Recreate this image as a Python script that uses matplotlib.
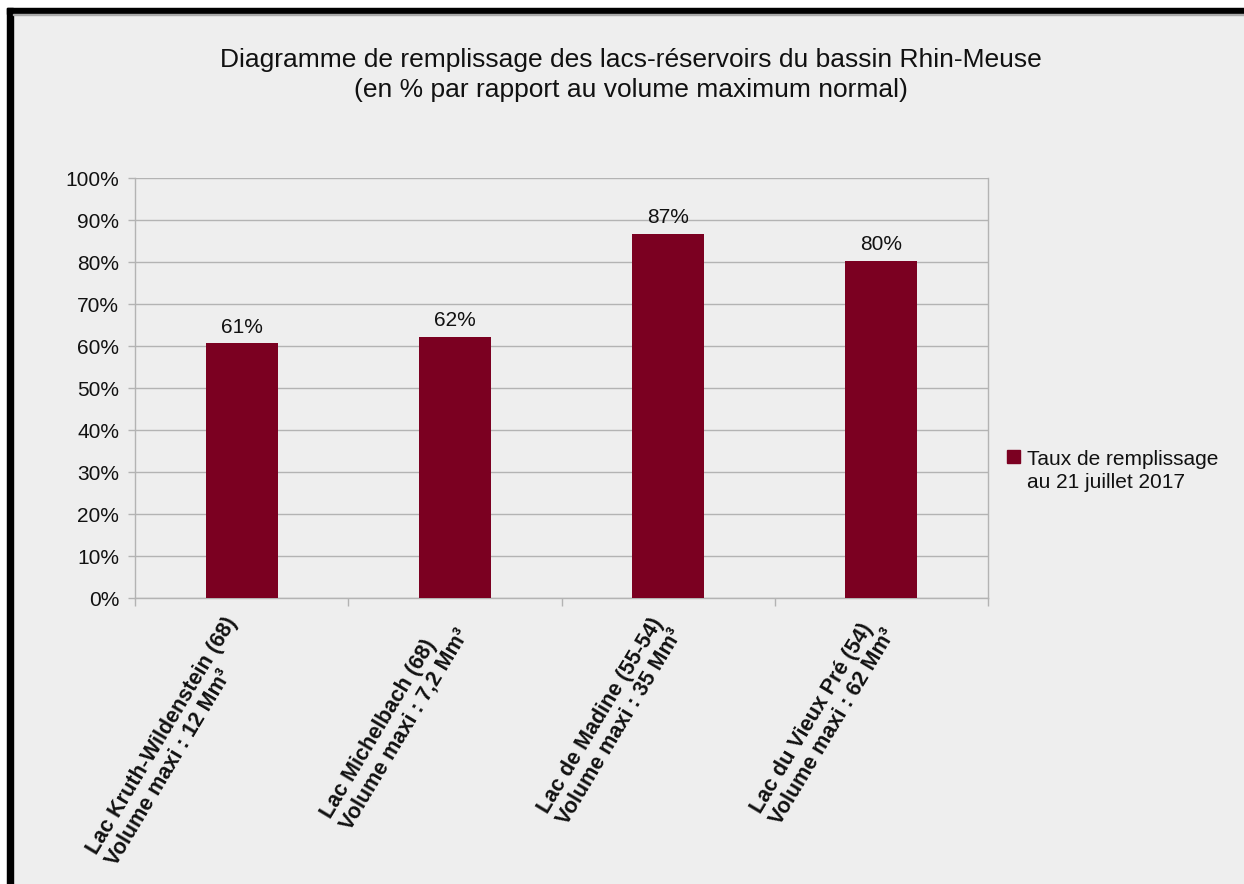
import numpy as np
import matplotlib
matplotlib.use('Agg')
import matplotlib.pyplot as plt
from matplotlib.patches import Rectangle

plt.rcParams['font.family'] = ['Liberation Sans', 'DejaVu Sans']

lacs = ['Lac Kruth-Wildenstein (68)\nVolume maxi : 12 Mm³',
        'Lac Michelbach (68)\nVolume maxi : 7,2 Mm³',
        'Lac de Madine (55-54)\nVolume maxi : 35 Mm³',
        'Lac du Vieux Pré (54)\nVolume maxi : 62 Mm³']
taux = [60.6, 62.2, 86.6, 80.2]
yticks = np.arange(0, 101, 10)
serie = 'Taux de remplissage\nau 21 juillet 2017'
titre1 = 'Diagramme de remplissage des lacs-réservoirs du bassin Rhin-Meuse'
titre2 = '(en % par rapport au volume maximum normal)'

W, H = 1244, 884
bg = '#eeeeee'
bar_col = '#7b0021'
grid_col = '#b3b3b3'
txt = '#111111'
fs = 15

fig = plt.figure(figsize=(W / 100, H / 100), dpi=100, facecolor='white')

def px(x, y, w, h):
    # pixel box (from top-left) -> figure fraction
    return (x / W, 1 - (y + h) / H), w / W, h / H

# background + the black frame on top and left
xy, w, h = px(7, 8, W - 7, H - 8)
fig.patches.append(Rectangle(xy, w, h, transform=fig.transFigure, color=bg, zorder=-2))
xy, w, h = px(7, 8, W - 7, 6)
fig.patches.append(Rectangle(xy, w, h, transform=fig.transFigure, color='black', zorder=1))
xy, w, h = px(7, 8, 6, H - 8)
fig.patches.append(Rectangle(xy, w, h, transform=fig.transFigure, color='black', zorder=1))
xy, w, h = px(13, 14, W - 13, 1)
fig.patches.append(Rectangle(xy, w, h, transform=fig.transFigure, color='#aaaaaa', zorder=1))

ax = fig.add_axes([135 / W, 1 - 598 / H, (988 - 135) / W, (598 - 178) / H])
ax.set_facecolor(bg)

x = np.arange(len(lacs))
bars = ax.bar(x, taux, width=0.338, color=bar_col, zorder=3)
ax.bar_label(bars, labels=[f'{v:.0f}%' for v in taux], padding=5,
             fontsize=fs, color=txt)

ax.set_xlim(-0.5, len(lacs) - 0.5)
ax.set_ylim(0, 100)
ax.set_yticks(yticks, [f'{t}%' for t in yticks], fontsize=fs, color=txt)
ax.yaxis.grid(True, color=grid_col, linewidth=1, zorder=0)
ax.set_axisbelow(True)
ax.tick_params(axis='y', length=5, width=1, color=grid_col, pad=6.5)

ax.set_xticks(x, lacs, rotation=59, ha='right', va='center',
              rotation_mode='anchor', fontsize=15.5, fontweight='bold',
              color=txt, multialignment='left', linespacing=1.1)
ax.set_xticks(np.arange(len(lacs) + 1) - 0.5, minor=True)
ax.tick_params(axis='x', which='major', length=0, pad=19.5)
ax.tick_params(axis='x', which='minor', length=6, width=1, color=grid_col)

ax.spines['top'].set_visible(False)
for s in ['left', 'right', 'bottom']:
    ax.spines[s].set_color(grid_col)
    ax.spines[s].set_linewidth(1)

fig.text(631 / W, 1 - 67 / H, titre1, ha='center', va='baseline',
         fontsize=19, color=txt)
fig.text(631 / W, 1 - 97 / H, titre2, ha='center', va='baseline',
         fontsize=19, color=txt)

# legend
xy, w, h = px(1007, 450, 13, 13)
fig.patches.append(Rectangle(xy, w, h, transform=fig.transFigure, color=bar_col, zorder=2))
l1, l2 = serie.split('\n')
fig.text(1027 / W, 1 - 465 / H, l1, ha='left', va='baseline', fontsize=fs, color=txt)
fig.text(1027 / W, 1 - 488 / H, l2, ha='left', va='baseline', fontsize=fs, color=txt)

fig.savefig('out.png', dpi=100, facecolor=fig.get_facecolor())
